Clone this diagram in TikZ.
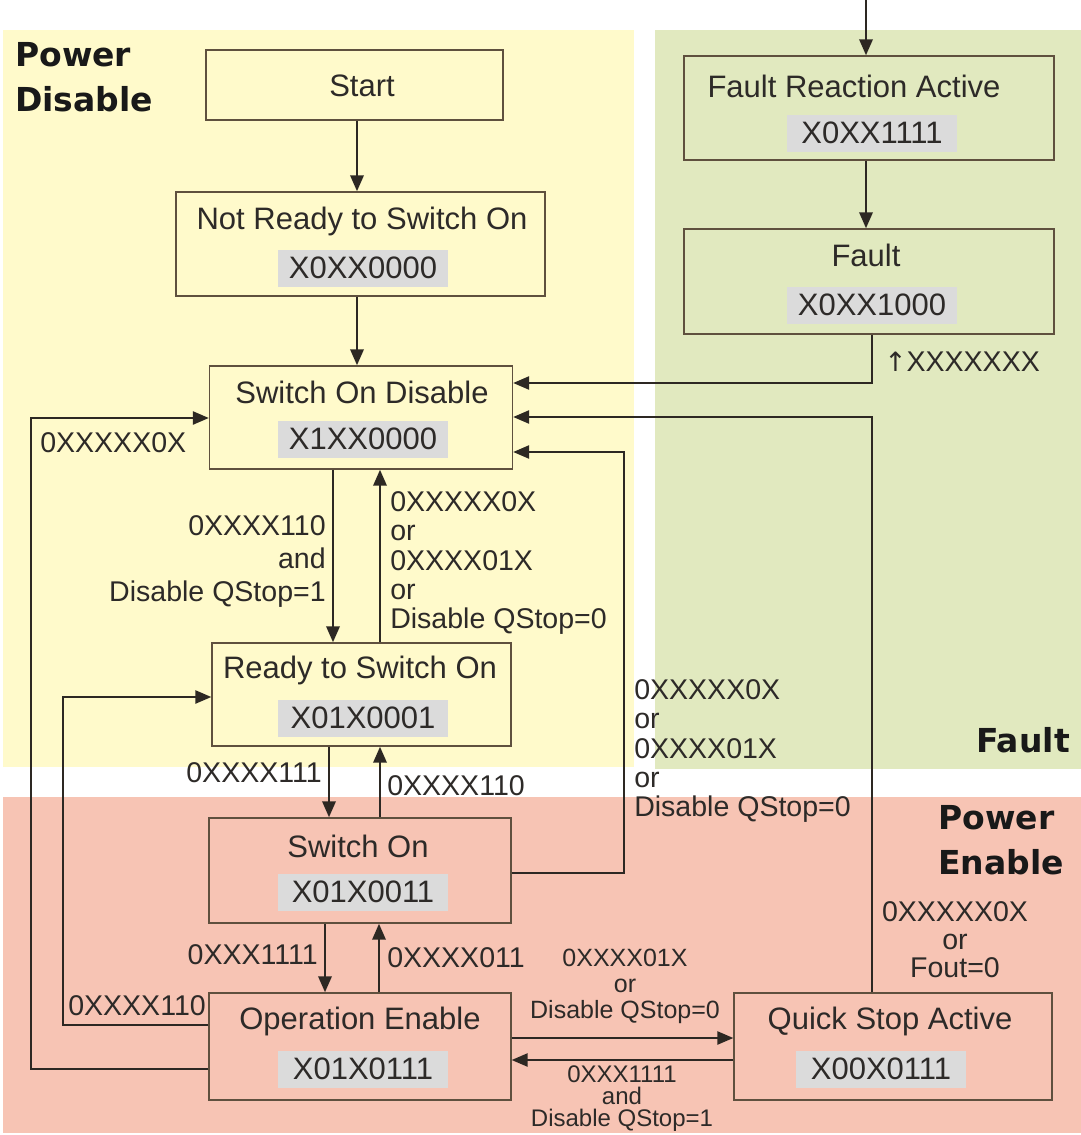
\documentclass[tikz,border=0pt]{standalone}
\usepackage{fontspec}
\setmainfont{Liberation Sans}
\newfontfamily\regfont{DejaVu Sans}
\newfontfamily\symfont{DejaVu Sans}
\usetikzlibrary{arrows.meta,calc}
\definecolor{ybg}{RGB}{255,250,203}
\definecolor{gbg}{RGB}{225,233,191}
\definecolor{rbg}{RGB}{247,196,180}
\definecolor{codebg}{RGB}{219,219,219}
\definecolor{boxc}{RGB}{95,80,62}
\definecolor{linec}{RGB}{45,40,35}
\definecolor{txtc}{RGB}{45,42,40}
\begin{document}
\begin{tikzpicture}[x=0.75pt,y=-0.75pt,
  stbox/.style={draw=boxc,line width=1.1pt,inner sep=0pt},
  ttl/.style={font=\fontsize{23.25}{28}\selectfont,text=txtc,inner sep=0pt},
  code/.style={fill=codebg,font=\fontsize{23.25}{28}\selectfont,text=txtc,inner sep=0pt,minimum width=127.5pt,minimum height=27.75pt},
  lbl/.style={font=\fontsize{21.4}{22.1}\selectfont,text=txtc,inner sep=0pt},
  slbl/.style={font=\fontsize{18.75}{19.5}\selectfont,text=txtc,inner sep=0pt,align=center},
  reg/.style={font=\regfont\bfseries\fontsize{24.75}{33.75}\selectfont,text=black!90,inner sep=0pt},
  arr/.style={draw=linec,line width=1.8pt,-{Triangle[length=12pt,width=10pt]}},
  rte/.style={draw=linec,line width=1.2pt,-{Triangle[length=12pt,width=10pt]}}
]
\useasboundingbox (0,0) rectangle (1081,1135);
% regions
\fill[ybg] (3,30) rectangle (634,767);
\fill[gbg] (655,30) rectangle (1081,769);
\fill[rbg] (3,797) rectangle (1081,1133);
\node[reg,align=left,anchor=west] (rpd) at (15,77.5) {Power\\Disable};
\node[reg,anchor=east] (rf) at (1070,740) {Fault};
\node[reg,align=left,anchor=west] (rpe) at (938,840) {Power\\Enable};

% state boxes
\node[stbox,minimum width=222.75pt,minimum height=52.5pt] (start) at (354.5,85) {};
\node[ttl] (startt) at (362,86) {Start};

\node[stbox,minimum width=276.75pt,minimum height=78pt] (nr) at (360.5,244) {};
\node[ttl] (nrt) at (362,221) {Not Ready to Switch On};
\node[code] (nrc) at (363,268) {X0XX0000};

\node[stbox,minimum width=227.25pt,minimum height=77.25pt] (sod) at (361,417.5) {};
\node[ttl] (sodt) at (362,392) {Switch On Disable};
\node[code] (sodc) at (363,439) {X1XX0000};

\node[stbox,minimum width=224.25pt,minimum height=77.25pt] (rtso) at (361.5,694.5) {};
\node[ttl] (rtsot) at (360,670) {Ready to Switch On};
\node[code] (rtsoc) at (363,718) {X01X0001};

\node[stbox,minimum width=226.5pt,minimum height=78.75pt] (so) at (360,870.5) {};
\node[ttl] (sot) at (358,846) {Switch On};
\node[code] (soc) at (363,892) {X01X0011};

\node[stbox,minimum width=226.5pt,minimum height=80.25pt] (oe) at (360,1046.5) {};
\node[ttl] (oet) at (360,1021) {Operation Enable};
\node[code] (oec) at (363,1069) {X01X0111};

\node[stbox,minimum width=238.5pt,minimum height=80.25pt] (qsa) at (893,1046.5) {};
\node[ttl] (qsat) at (890,1021) {Quick Stop Active};
\node[code] (qsac) at (881,1069) {X00X0111};

\node[stbox,minimum width=277.5pt,minimum height=78pt] (fra) at (869,108) {};
\node[ttl] (frat) at (854,86) {Fault Reaction Active};
\node[code] (frac) at (872,133) {X0XX1111};

\node[stbox,minimum width=277.5pt,minimum height=78.75pt] (fault) at (869,281.5) {};
\node[ttl] (faultt) at (866,255) {Fault};
\node[code] (faultc) at (872,305) {X0XX1000};

% main vertical arrows
\coordinate (in) at (866,0);
\draw[arr] (in) -- (fra.north -| 866,0);
\draw[arr] (fra.south -| 866,0) -- (fault.north -| 866,0);
\draw[arr] (start.south -| 357,0) -- (nr.north -| 357,0);
\draw[arr] (nr.south -| 357,0) -- (sod.north -| 357,0);
\draw[arr] (sod.south -| 333,0) -- (rtso.north -| 333,0);
\draw[arr] (rtso.north -| 380,0) -- (sod.south -| 380,0);
\draw[arr] (rtso.south -| 329,0) -- (so.north -| 329,0);
\draw[arr] (so.north -| 380,0) -- (rtso.south -| 380,0);
\draw[arr] (so.south -| 325,0) -- (oe.north -| 325,0);
\draw[arr] (oe.north -| 379,0) -- (so.south -| 379,0);

% routed connectors
\draw[rte] (fault.south -| 872,0) |- (sod.east |- 0,383);
\draw[rte] (qsa.north -| 872,0) |- (sod.east |- 0,417);
\draw[rte] (so.east |- 0,873) -- (624,873) -- (624,452) -- (sod.east |- 0,452);
\draw[rte] (oe.west |- 0,1025) -- (63,1025) -- (63,697) -- (rtso.west |- 0,697);
\draw[rte] (oe.west |- 0,1069) -- (31,1069) -- (31,418) -- (sod.west |- 0,418);
\draw[rte] (oe.east |- 0,1038) -- (qsa.west |- 0,1038);
\draw[rte] (qsa.west |- 0,1060) -- (oe.east |- 0,1060);

% labels
\node[lbl,anchor=west] (lf) at (884,362) {{\symfont\fontsize{20}{20}\selectfont ↑}XXXXXXX};
\node[lbl,anchor=west] (l1) at (40,443) {0XXXXX0X};
\node[lbl,align=right,anchor=east,font=\fontsize{21.4}{24.75}\selectfont] (l2) at (326,561) {0XXXX110\\and\\Disable QStop=1};
\node[lbl,align=left,anchor=west] (l3) at (390,563) {0XXXXX0X\\or\\0XXXX01X\\or\\Disable QStop=0};
\node[lbl,anchor=east] (l4) at (322,773) {0XXXX111};
\node[lbl,anchor=west] (l5) at (387,786) {0XXXX110};
\node[lbl,align=left,anchor=west] (l6) at (634,751) {0XXXXX0X\\or\\0XXXX01X\\or\\Disable QStop=0};
\node[lbl,anchor=east] (l7) at (318,955) {0XXX1111};
\node[lbl,anchor=west] (l8) at (387,958) {0XXXX011};
\node[lbl,anchor=west] (l9) at (68,1006) {0XXXX110};
\node[lbl,align=center,font=\fontsize{21.4}{21}\selectfont] (l10) at (955,940) {0XXXXX0X\\or\\Fout=0};
\node[slbl] (l11) at (625,986) {0XXXX01X\\or\\Disable QStop=0};
\node[slbl,font=\fontsize{18}{16.5}\selectfont] (l12) at (622,1099) {0XXX1111\\and\\Disable QStop=1};
\end{tikzpicture}
\end{document}
